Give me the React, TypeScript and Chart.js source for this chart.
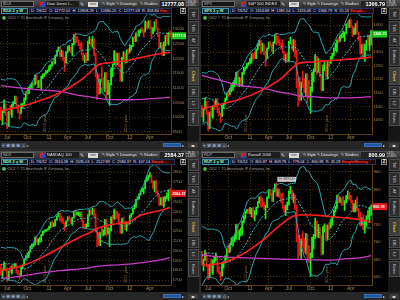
import { useEffect, useRef } from 'react';
import { Chart, registerables } from 'chart.js';

Chart.register(...registerables);

const FONT = "'Liberation Sans', Arial, sans-serif";

// ---- shared time axis (weekly bars, Jun 2010 .. Jul 2012) ----
const xTickIndex = [4, 17, 31, 43, 56, 70, 83, 96];
const xTickText = ['Jul', 'Oct', '11', 'Apr', 'Jul', 'Oct', '12', 'Apr'];
const yearMarkIndex = [28.5, 80.5];
const yearMarkText = ['2010 year', '2011 year'];
const maIndex = [0, 12, 25, 38, 51, 58, 62, 71, 82, 90, 103, 109];

// ---- $DJI ----
const djiPre = [10173, 10067, 10012, 10099, 10402, 10325, 10567, 10625, 10742, 10851, 10927, 10997, 11019, 11204, 11009, 10380, 10620, 10193, 10137];
const djiClose = [
  9932, 10211, 10450, 10144, 9686, 10198, 10097, 10425, 10466, 10654,
  10303, 10214, 10150, 10448, 10463, 10608, 10861, 10830, 11006, 11063,
  11133, 11118, 11445, 11193, 11204, 11093, 11383, 11410, 11492, 11574,
  11578, 11675, 11787, 11872, 11824, 12092, 12273, 12391, 12130, 12170,
  12044, 11859, 12221, 12377, 12380, 12342, 12506, 12811, 12639, 12596,
  12512, 12442, 12152, 11952, 12004, 11934, 12583, 12657, 12480, 12681,
  12143, 11445, 11269, 10818, 11285, 11240, 10992, 11509, 10771, 10913,
  11103, 11645, 11809, 12232, 11983, 12153, 11796, 11231, 12019, 12184,
  11866, 12294, 12218, 12360, 12422, 12720, 12660, 12862, 12801, 12950,
  12983, 12978, 12922, 13233, 13081, 13212, 13060, 12850, 13029, 13228,
  13038, 12821, 12369, 12455, 12119, 12554, 12767, 12640, 12880, 12777,
];
const djiHigh = [
  10350, 10230, 10595, 10450, 10170, 10200, 10410, 10440, 10540, 10720,
  10710, 10420, 10220, 10460, 10480, 10660, 10870, 10950, 11030, 11130,
  11180, 11200, 11450, 11450, 11260, 11240, 11400, 11460, 11510, 11590,
  11610, 11750, 11800, 11900, 12020, 12110, 12280, 12400, 12390, 12290,
  12260, 12040, 12240, 12420, 12450, 12390, 12520, 12820, 12880, 12760,
  12640, 12520, 12570, 12180, 12120, 12200, 12600, 12750, 12660, 12750,
  12680, 12180, 11500, 11450, 11300, 11720, 11350, 11520, 11530, 11260,
  11160, 11660, 11820, 12280, 12230, 12180, 12200, 11800, 12050, 12240,
  12190, 12300, 12330, 12480, 12450, 12730, 12760, 12880, 12950, 12970,
  13010, 13060, 12990, 13290, 13250, 13290, 13300, 13080, 13060, 13260,
  13340, 13050, 12830, 12550, 12500, 12570, 12790, 12850, 12890, 12950,
];
const djiLow = [
  9900, 9757, 10160, 10070, 9614, 9700, 10090, 10000, 10370, 10460,
  10290, 10150, 9940, 10120, 10310, 10430, 10580, 10750, 10800, 10960,
  10980, 11050, 11100, 11150, 11010, 11030, 10930, 11320, 11390, 11470,
  11520, 11560, 11620, 11740, 11800, 11820, 12080, 12250, 12060, 12070,
  11930, 11560, 11840, 12200, 12270, 12200, 12090, 12470, 12530, 12550,
  12440, 12310, 12120, 11930, 11860, 11870, 11930, 12500, 12420, 12380,
  12100, 11380, 10600, 10780, 10800, 11200, 10930, 10870, 10600, 10770,
  10400, 11100, 11380, 11790, 11720, 11790, 11730, 11230, 11230, 11980,
  11820, 11860, 12150, 12210, 12290, 12410, 12580, 12580, 12770, 12760,
  12880, 12900, 12740, 12900, 13000, 13040, 13030, 12700, 12840, 12940,
  13030, 12760, 12360, 12360, 12100, 12100, 12430, 12500, 12460, 12720,
];
const djiRed = [10220, 10358, 10563, 10838, 11250, 11560, 11765, 11868, 11936, 12039, 12176, 12211];
const djiMagenta = [11078, 11000, 10932, 10884, 10736, 10690, 10655, 10600, 10598, 10610, 10650, 10690];
const djiTicks = [9500, 10000, 10500, 11000, 11500, 12000, 12500, 13000];

// ---- SPX ----
const spxPre = [1091.8, 1073.9, 1066.2, 1075.5, 1109.2, 1104.5, 1138.7, 1150.0, 1159.9, 1166.6, 1178.1, 1194.4, 1192.1, 1217.3, 1186.7, 1110.9, 1135.7, 1087.7, 1089.4];
const spxClose = [
  1064.9, 1091.6, 1117.5, 1076.8, 1022.6, 1078.0, 1064.9, 1102.7, 1101.6, 1121.6,
  1079.3, 1071.7, 1064.6, 1104.5, 1109.6, 1125.6, 1148.7, 1146.2, 1165.2, 1176.2,
  1183.1, 1183.3, 1225.9, 1199.2, 1199.7, 1189.4, 1224.7, 1240.4, 1243.9, 1256.8,
  1257.6, 1271.5, 1293.2, 1283.4, 1276.3, 1310.9, 1329.2, 1343.0, 1319.9, 1321.2,
  1304.3, 1279.2, 1313.8, 1332.4, 1328.2, 1319.7, 1337.4, 1363.6, 1340.2, 1337.8,
  1333.3, 1331.1, 1300.2, 1271.0, 1271.5, 1268.5, 1339.7, 1343.8, 1316.1, 1345.0,
  1292.3, 1199.4, 1178.8, 1123.5, 1176.8, 1174.0, 1154.2, 1216.0, 1136.4, 1131.4,
  1155.5, 1224.6, 1238.3, 1285.1, 1253.2, 1263.9, 1216.0, 1158.7, 1244.3, 1255.2,
  1219.7, 1265.3, 1257.6, 1277.8, 1289.1, 1315.4, 1316.3, 1344.9, 1342.6, 1361.2,
  1365.7, 1369.6, 1370.9, 1404.2, 1397.1, 1408.5, 1398.1, 1370.3, 1378.5, 1403.4,
  1369.1, 1353.4, 1295.2, 1317.8, 1278.0, 1325.7, 1342.8, 1335.0, 1362.2, 1366.8,
];
const spxHigh = [
  1105, 1093, 1131, 1118, 1080, 1079, 1099, 1103, 1120, 1128,
  1129, 1095, 1074, 1105, 1112, 1131, 1149, 1160, 1167, 1185,
  1189, 1196, 1227, 1228, 1207, 1205, 1226, 1244, 1247, 1259,
  1263, 1278, 1294, 1296, 1302, 1312, 1331, 1344, 1343, 1333,
  1330, 1304, 1316, 1337, 1339, 1329, 1338, 1364, 1370, 1359,
  1346, 1334, 1346, 1302, 1292, 1298, 1341, 1356, 1344, 1347,
  1346, 1308, 1199, 1208, 1190, 1230, 1204, 1220, 1221, 1195,
  1171, 1225, 1239, 1292, 1285, 1277, 1265, 1216, 1253, 1267,
  1256, 1266, 1270, 1285, 1296, 1316, 1333, 1346, 1354, 1363,
  1368, 1378, 1374, 1405, 1414, 1420, 1422, 1398, 1391, 1406,
  1416, 1374, 1356, 1328, 1334, 1329, 1344, 1364, 1363, 1381,
];
const spxLow = [
  1060, 1042, 1088, 1071, 1011, 1018, 1063, 1056, 1089, 1100,
  1076, 1066, 1040, 1062, 1092, 1107, 1122, 1136, 1142, 1155,
  1159, 1171, 1180, 1194, 1173, 1176, 1173, 1218, 1232, 1240,
  1252, 1257, 1262, 1271, 1275, 1276, 1308, 1324, 1294, 1303,
  1291, 1249, 1276, 1312, 1322, 1304, 1294, 1332, 1327, 1332,
  1324, 1311, 1297, 1268, 1262, 1265, 1267, 1331, 1309, 1303,
  1283, 1168, 1101, 1120, 1122, 1169, 1150, 1136, 1114, 1131,
  1074, 1155, 1191, 1230, 1216, 1226, 1209, 1158, 1158, 1231,
  1209, 1202, 1248, 1259, 1274, 1288, 1306, 1300, 1334, 1339,
  1352, 1355, 1340, 1369, 1389, 1391, 1392, 1357, 1365, 1366,
  1368, 1343, 1291, 1296, 1277, 1266, 1307, 1324, 1306, 1326,
];
const spxRed = [1091, 1108, 1127, 1158, 1202, 1241, 1258, 1264, 1269, 1272, 1278, 1282];
const spxMagenta = [1214, 1196, 1177, 1168, 1152, 1145, 1139, 1136, 1131, 1131, 1133, 1136];
const spxTicks = [1050, 1100, 1150, 1200, 1250, 1300, 1400];

// ---- NDX ----
const ndxPre = [1789, 1741, 1730, 1768, 1815, 1817, 1866, 1889, 1897, 1925, 1939, 1975, 1980, 2032, 1972, 1830, 1872, 1796, 1826];
const ndxClose = [
  1757, 1808, 1863, 1796, 1707, 1793, 1778, 1842, 1832, 1857,
  1776, 1767, 1750, 1829, 1853, 1912, 1945, 1945, 1990, 2043,
  2048, 2061, 2135, 2093, 2110, 2111, 2162, 2196, 2197, 2209,
  2217, 2241, 2286, 2244, 2255, 2315, 2350, 2380, 2336, 2330,
  2288, 2250, 2300, 2339, 2326, 2294, 2338, 2399, 2374, 2378,
  2380, 2382, 2309, 2238, 2236, 2249, 2363, 2407, 2384, 2425,
  2359, 2211, 2176, 2059, 2180, 2167, 2174, 2313, 2178, 2179,
  2205, 2343, 2325, 2404, 2379, 2377, 2288, 2179, 2318, 2298,
  2225, 2283, 2278, 2353, 2373, 2432, 2452, 2519, 2528, 2574,
  2614, 2625, 2633, 2712, 2731, 2755, 2770, 2704, 2643, 2707,
  2590, 2574, 2468, 2527, 2459, 2539, 2547, 2556, 2615, 2584,
];
const ndxHigh = [
  1860, 1815, 1885, 1868, 1800, 1795, 1835, 1845, 1860, 1870,
  1870, 1800, 1770, 1830, 1857, 1915, 1950, 1975, 1992, 2050,
  2070, 2075, 2140, 2150, 2120, 2135, 2165, 2200, 2210, 2215,
  2225, 2250, 2290, 2300, 2285, 2318, 2355, 2382, 2380, 2350,
  2335, 2290, 2305, 2345, 2355, 2330, 2340, 2400, 2415, 2395,
  2395, 2390, 2400, 2312, 2270, 2275, 2365, 2420, 2410, 2435,
  2430, 2375, 2220, 2190, 2185, 2240, 2215, 2320, 2320, 2240,
  2225, 2345, 2360, 2425, 2410, 2400, 2380, 2290, 2330, 2340,
  2300, 2285, 2295, 2360, 2380, 2435, 2465, 2522, 2550, 2578,
  2620, 2640, 2640, 2715, 2750, 2770, 2795, 2775, 2715, 2710,
  2720, 2610, 2575, 2540, 2550, 2545, 2555, 2590, 2620, 2635,
];
const ndxLow = [
  1750, 1720, 1800, 1790, 1690, 1700, 1775, 1760, 1818, 1825,
  1770, 1755, 1710, 1745, 1815, 1848, 1905, 1930, 1930, 1985,
  2020, 2040, 2055, 2085, 2060, 2085, 2090, 2155, 2185, 2195,
  2205, 2215, 2235, 2240, 2245, 2250, 2310, 2345, 2300, 2290,
  2275, 2200, 2245, 2300, 2320, 2280, 2260, 2330, 2350, 2365,
  2355, 2345, 2300, 2230, 2225, 2230, 2245, 2350, 2370, 2365,
  2345, 2190, 2040, 2055, 2050, 2160, 2150, 2160, 2150, 2170,
  2040, 2200, 2280, 2320, 2320, 2320, 2280, 2175, 2175, 2280,
  2215, 2200, 2265, 2275, 2340, 2370, 2420, 2440, 2515, 2525,
  2565, 2600, 2580, 2630, 2705, 2720, 2750, 2690, 2630, 2600,
  2585, 2555, 2460, 2465, 2455, 2440, 2500, 2530, 2510, 2528,
];
const ndxRed = [1797, 1839, 1919, 2030, 2140, 2190, 2226, 2266, 2290, 2360, 2412, 2440];
const ndxMagenta = [1717, 1737, 1771, 1797, 1814, 1828, 1840, 1852, 1862, 1877, 1905, 1930];
const ndxTicks = [1700, 1800, 1900, 2000, 2100, 2200, 2300, 2400, 2500, 2700, 2800];

// ---- RUT ----
const rutPre = [607, 602, 592, 601, 628, 628, 663, 677, 681, 683, 690, 708, 716, 738, 717, 656, 683, 645, 662];
const rutClose = [
  636, 649, 669, 633, 602, 636, 614, 648, 650, 654,
  615, 612, 604, 638, 642, 656, 680, 676, 694, 703,
  707, 711, 749, 721, 729, 734, 759, 772, 786, 792,
  784, 787, 794, 771, 781, 799, 814, 827, 815, 812,
  799, 801, 827, 846, 837, 823, 846, 865, 836, 843,
  838, 833, 799, 790, 800, 810, 844, 847, 826, 833,
  797, 714, 712, 662, 703, 689, 677, 722, 652, 644,
  656, 712, 713, 760, 739, 741, 713, 665, 737, 748,
  713, 747, 741, 752, 772, 789, 801, 832, 817, 820,
  817, 811, 814, 831, 832, 830, 818, 793, 804, 817,
  791, 783, 749, 767, 737, 761, 770, 770, 799, 801,
];
const rutHigh = [
  673, 651, 677, 670, 634, 637, 651, 649, 659, 668,
  660, 630, 615, 639, 645, 661, 681, 692, 695, 712,
  715, 720, 750, 752, 734, 740, 760, 775, 788, 793,
  795, 799, 796, 799, 790, 800, 816, 829, 832, 824,
  815, 805, 829, 847, 849, 840, 847, 866, 869, 851,
  852, 838, 840, 803, 805, 815, 846, 860, 848, 840,
  835, 805, 720, 720, 708, 730, 710, 725, 723, 690,
  668, 714, 722, 768, 760, 750, 742, 713, 745, 752,
  749, 748, 755, 765, 774, 791, 802, 833, 835, 828,
  824, 830, 818, 833, 846, 841, 833, 818, 810, 820,
  829, 796, 785, 770, 778, 763, 775, 790, 800, 806,
];
const rutLow = [
  634, 617, 647, 629, 592, 598, 613, 607, 640, 645,
  613, 608, 590, 602, 625, 640, 650, 668, 670, 692,
  688, 700, 708, 718, 706, 717, 720, 755, 766, 782,
  781, 780, 772, 768, 760, 778, 797, 811, 800, 800,
  792, 766, 798, 825, 833, 816, 815, 843, 830, 830,
  826, 812, 796, 784, 775, 792, 805, 838, 820, 812,
  792, 700, 650, 660, 650, 685, 670, 665, 643, 640,
  601, 655, 680, 710, 715, 712, 710, 664, 665, 728,
  707, 707, 735, 740, 748, 770, 785, 795, 812, 812,
  805, 805, 790, 812, 822, 820, 812, 787, 786, 786,
  790, 770, 745, 748, 735, 725, 745, 765, 755, 776,
];
const rutRed = [634, 639, 662, 701, 750, 772, 777, 777, 773, 770, 763, 756];
const rutMagenta = [663, 658, 655, 653, 651, 650, 650, 649, 648, 651, 655, 661];
const rutTicks = [600, 650, 700, 750, 850, 900];

type PanelCfg = {
  symbol: string; desc: string; price: string; chg: string[];
  tag: string; info: string; sim: string; simWidth: number;
  pre: number[]; close: number[]; high: number[]; low: number[];
  red: number[]; magenta: number[]; ticks: number[];
  yMin: number; yMax: number; boxColor: string; boxText: string; boxLabel: string;
  hideFirstX: boolean; showHigh: boolean;
};

const GREEN_BOX = '#18c818';
const RED_BOX = '#e01a1a';

const panels: PanelCfg[] = [
  {
    symbol: '$DJI', desc: 'Dow Jones I...', price: '12777.08', chg: ['+106.46', '+0.84%'],
    tag: '$DJI 2 y W', info: 'D: 7/6/12  O: 12772.02  H: 12808.28  L: 12480.25  C: 12777.09  R: 358.84', sim: 'Sim', simWidth: 10,
    pre: djiPre, close: djiClose, high: djiHigh, low: djiLow, red: djiRed, magenta: djiMagenta, ticks: djiTicks,
    yMin: 9430, yMax: 13520, boxColor: GREEN_BOX, boxText: '#eaffea', boxLabel: '12777.08', hideFirstX: false, showHigh: false,
  },
  {
    symbol: 'SPX', desc: 'S&P 500 INDEX', price: '1366.79', chg: ['+11.56', '+0.85%'],
    tag: 'SPX 2 y W', info: 'D: 7/6/12  O: 1354.68  H: 1381.54  L: 1326.48  C: 1366.79  R: 55.13', sim: 'Simple...', simWidth: 22,
    pre: spxPre, close: spxClose, high: spxHigh, low: spxLow, red: spxRed, magenta: spxMagenta, ticks: spxTicks,
    yMin: 998, yMax: 1441, boxColor: GREEN_BOX, boxText: '#eaffea', boxLabel: '1366.79', hideFirstX: true, showHigh: false,
  },
  {
    symbol: 'NDX', desc: 'NASDAQ 100', price: '2584.37', chg: ['+26.15', '+1.02%'],
    tag: 'NDX 2 y W', info: 'D: 7/6/12  O: 2610.38  H: 2635.03  L: 2527.89  C: 2584.37  R: 107.14', sim: 'Simple...', simWidth: 22,
    pre: ndxPre, close: ndxClose, high: ndxHigh, low: ndxLow, red: ndxRed, magenta: ndxMagenta, ticks: ndxTicks,
    yMin: 1650, yMax: 2873, boxColor: RED_BOX, boxText: '#ffffff', boxLabel: '2584.37', hideFirstX: false, showHigh: false,
  },
  {
    symbol: 'RUT', desc: 'Russell 2000', price: '800.99', chg: ['+5.15', '+0.65%'],
    tag: 'RUT 2 y W', info: 'D: 7/6/12  O: 805.87  H: 809.79  L: 778.04  C: 800.99  R: 32.28', sim: 'SimpleMoving', simWidth: 33,
    pre: rutPre, close: rutClose, high: rutHigh, low: rutLow, red: rutRed, magenta: rutMagenta, ticks: rutTicks,
    yMin: 577, yMax: 920, boxColor: RED_BOX, boxText: '#ffffff', boxLabel: '800.99', hideFirstX: false, showHigh: true,
  },
];

const UP = '#19f019';
const DOWN = '#f01414';
const GRID = '#4e3412';
const AXIS = '#5e4016';
const TICK = '#a88a5c';
const BAND = '#27a6b0';
const MID = '#42c8d2';

function bollinger(pre: number[], close: number[]) {
  const all = pre.concat(close);
  const up: { x: number; y: number }[] = [];
  const mid: { x: number; y: number }[] = [];
  const lo: { x: number; y: number }[] = [];
  for (let i = 0; i < close.length; i++) {
    const end = i + pre.length + 1;
    const w = all.slice(Math.max(0, end - 20), end);
    const m = w.reduce((a, b) => a + b, 0) / w.length;
    const sd = Math.sqrt(w.reduce((a, b) => a + (b - m) * (b - m), 0) / w.length);
    up.push({ x: i, y: m + 2 * sd });
    mid.push({ x: i, y: m });
    lo.push({ x: i, y: m - 2 * sd });
  }
  return { up, mid, lo };
}

function Panel({ cfg, left, top }: { cfg: PanelCfg; left: number; top: number }) {
  const ref = useRef<HTMLCanvasElement>(null);

  useEffect(() => {
    const n = cfg.close.length;
    const open = cfg.close.map((_, i) => (i === 0 ? cfg.pre[cfg.pre.length - 1] : cfg.close[i - 1]));
    const colors = cfg.close.map((c, i) => (c >= open[i] ? UP : DOWN));
    const bb = bollinger(cfg.pre, cfg.close);
    const xLabels = xTickText.map((t, k) => (k === 0 && cfg.hideFirstX ? '' : t));

    const overlay = {
      id: 'overlay' + cfg.symbol,
      afterDatasetsDraw(chart: any) {
        const { ctx, chartArea: ca, scales } = chart;
        const xs = scales.x;
        const ys = scales.y;
        ctx.save();
        ctx.fillStyle = '#8c7048';
        ctx.font = `4px ${FONT}`;
        ctx.textBaseline = 'middle';
        ctx.textAlign = 'left';
        yearMarkIndex.forEach((v, k) => {
          const x = xs.getPixelForValue(v);
          ctx.save();
          ctx.translate(x, ca.bottom - 2);
          ctx.rotate(-Math.PI / 2);
          ctx.fillText(yearMarkText[k], 0, 0);
          ctx.restore();
        });
        if (cfg.showHigh) {
          let hi = 0;
          cfg.high.forEach((h, i) => { if (h > cfg.high[hi]) hi = i; });
          const x = xs.getPixelForValue(hi) + 1;
          const y = ys.getPixelForValue(cfg.high[hi]) - 6;
          const label = 'H: ' + cfg.high[hi].toFixed(2);
          ctx.font = `3.6px ${FONT}`;
          const w = ctx.measureText(label).width + 3;
          ctx.fillStyle = '#cfcfcf';
          ctx.fillRect(x, y, w, 5);
          ctx.fillStyle = '#333';
          ctx.fillText(label, x + 1.5, y + 2.6);
        }
        ctx.restore();
      },
      afterDraw(chart: any) {
        const { ctx, chartArea: ca, scales } = chart;
        const y = scales.y.getPixelForValue(cfg.close[n - 1]);
        ctx.save();
        ctx.fillStyle = cfg.boxColor;
        ctx.fillRect(ca.right + 0.5, y - 3.5, 14.5, 7);
        ctx.fillStyle = cfg.boxText;
        ctx.font = `bold 3.7px ${FONT}`;
        ctx.textBaseline = 'middle';
        ctx.textAlign = 'left';
        ctx.fillText(cfg.boxLabel, ca.right + 1.2, y + 0.3);
        ctx.restore();
      },
    };

    const pts = (vals: number[]) => maIndex.map((x, k) => ({ x, y: vals[k] }));

    const chart = new Chart(ref.current as HTMLCanvasElement, {
      type: 'bar',
      data: {
        datasets: [
          { type: 'line', data: pts(cfg.red), borderColor: '#ff1e1e', borderWidth: 1.6, pointRadius: 0, cubicInterpolationMode: 'monotone', order: -1 } as any,
          { type: 'line', data: pts(cfg.magenta), borderColor: '#c83cc8', borderWidth: 1.3, pointRadius: 0, cubicInterpolationMode: 'monotone', order: 0 } as any,
          { type: 'line', data: bb.up, borderColor: BAND, borderWidth: 1, pointRadius: 0, tension: 0, order: 0 } as any,
          { type: 'line', data: bb.lo, borderColor: BAND, borderWidth: 1, pointRadius: 0, tension: 0, order: 0 } as any,
          { type: 'line', data: bb.mid, borderColor: MID, borderWidth: 1, borderDash: [2, 1.5], pointRadius: 0, tension: 0, order: 0 } as any,
          {
            type: 'bar', data: cfg.close.map((c, i) => ({ x: i, y: [open[i], c] })),
            backgroundColor: colors, borderWidth: 0, grouped: false, categoryPercentage: 1, barPercentage: 0.8, order: 1,
          } as any,
          {
            type: 'bar', data: cfg.close.map((_, i) => ({ x: i, y: [cfg.low[i], cfg.high[i]] })),
            backgroundColor: colors, borderWidth: 0, grouped: false, barThickness: 1, order: 2,
          } as any,
        ],
      },
      options: {
        animation: false,
        responsive: false,
        maintainAspectRatio: false,
        events: [],
        layout: { padding: 0 },
        plugins: { legend: { display: false }, tooltip: { enabled: false } },
        scales: {
          x: {
            type: 'linear', min: -0.6, max: n - 0.4, offset: false,
            grid: { color: GRID, lineWidth: 1, offset: false, drawTicks: false },
            border: { display: true, color: AXIS, dash: [1, 2] },
            afterBuildTicks: (s: any) => { s.ticks = xTickIndex.map((v) => ({ value: v })); },
            afterFit: (s: any) => { s.height = 7; s.paddingLeft = 0; s.paddingRight = 0; },
            ticks: {
              autoSkip: false, maxRotation: 0, padding: 1, color: TICK,
              font: { size: 5, family: FONT },
              callback: (v: any) => xLabels[xTickIndex.indexOf(Number(v))] ?? '',
            },
          },
          y: {
            type: 'linear', position: 'right', min: cfg.yMin, max: cfg.yMax,
            grid: { color: GRID, lineWidth: 1, drawTicks: false },
            border: { display: true, color: AXIS, dash: [1, 2] },
            afterBuildTicks: (s: any) => { s.ticks = cfg.ticks.map((v) => ({ value: v })); },
            afterFit: (s: any) => { s.width = 15; s.paddingTop = 0; s.paddingBottom = 0; },
            ticks: {
              autoSkip: false, padding: 1.5, color: TICK,
              font: { size: 4.2, family: FONT },
              callback: (v: any) => String(v),
            },
          },
        },
      } as any,
      plugins: [overlay],
    });
    return () => chart.destroy();
  }, [cfg]);

  const tabs: [string, number, number][] = [
    ['TM', 0, 13], ['T&S', 13, 14], ['AT', 27, 12], ['Buttons', 39, 20],
    ['Chart', 59, 19], ['DB', 78, 12], ['L2', 90, 12], ['News', 102, 17],
  ];
  const abs = (s: any) => ({ position: 'absolute' as const, ...s });

  return (
    <div style={abs({ left, top, width: 199, height: 149, background: '#000', overflow: 'hidden', fontFamily: FONT })}>
      {/* toolbar */}
      <div style={abs({ left: 0, top: 0, width: 199, height: 8, background: 'linear-gradient(#505050,#2e2e2e)' })}>
        <div style={abs({ left: 1, top: 1, width: 33, height: 6, background: '#151515', border: '1px solid #6a6a6a', boxSizing: 'border-box', color: '#bdbdbd', fontSize: 4, lineHeight: '4px', paddingLeft: 1 })}>{cfg.symbol}</div>
        <div style={abs({ left: 40, top: 1.5, width: 5, height: 5, background: 'linear-gradient(135deg,#d82020 50%,#2848c8 50%)' })} />
        <div style={abs({ left: 46, top: 1, width: 32, height: 6, background: '#1c1c1c', color: '#e0e0e0', fontSize: 4, lineHeight: '6px', paddingLeft: 1, whiteSpace: 'nowrap', overflow: 'hidden' })}>{cfg.desc}</div>
        <div style={abs({ left: 80, top: 1.5, width: 5, height: 5, color: '#ddd', fontSize: 5, lineHeight: '5px' })}>✎</div>
        <div style={abs({ left: 88, top: 1.5, width: 10, height: 5, background: '#d8d8d8', color: '#333', fontSize: 3, lineHeight: '5px', textAlign: 'center' })}>mini</div>
        <div style={abs({ left: 102, top: 1, color: '#e6e6e6', fontSize: 4, lineHeight: '6px', whiteSpace: 'nowrap' })}>✎ Style</div>
        <div style={abs({ left: 116, top: 1, color: '#e6e6e6', fontSize: 4, lineHeight: '6px', whiteSpace: 'nowrap' })}>✎ Drawings</div>
        <div style={abs({ left: 140, top: 1, color: '#e6e6e6', fontSize: 4, lineHeight: '6px', whiteSpace: 'nowrap' })}>✎ Studies</div>
        <div style={abs({ left: 160, top: 0.5, width: 25, height: 7, background: '#222', color: '#fff', fontSize: 5.4, fontWeight: 'bold', lineHeight: '7px', textAlign: 'right', paddingRight: 1, boxSizing: 'border-box' })}>{cfg.price}</div>
        <div style={abs({ left: 186, top: 0.5, color: '#ddd', fontSize: 2.8, lineHeight: '3.3px', whiteSpace: 'nowrap' })}>{cfg.chg[0]}<br />{cfg.chg[1]}</div>
      </div>

      {/* info row */}
      <div style={abs({ left: 0, top: 8, width: 187, height: 6, background: '#000' })}>
        <div style={abs({ left: 1, top: 0, width: 27, height: 6, background: '#06202c', border: '1px solid #3c90b0', boxSizing: 'border-box', color: '#b8f0a8', fontSize: 4, lineHeight: '4px', paddingLeft: 1, whiteSpace: 'nowrap', fontWeight: 'bold' })}>{cfg.tag}</div>
        <div style={abs({ left: 29, top: 0, height: 6, display: 'flex', alignItems: 'center', background: '#0a0a22', border: '1px solid #243460', boxSizing: 'border-box', paddingLeft: 1, paddingRight: 1 })}>
          <span style={{ color: '#e8e8e8', fontSize: 3.9, lineHeight: '4px', whiteSpace: 'pre' }}>{cfg.info}</span>
          <span style={{ marginLeft: 1, width: cfg.simWidth, height: 4, background: '#2a0808', color: '#ff3030', fontSize: 3.9, lineHeight: '4px', whiteSpace: 'nowrap', overflow: 'hidden', fontWeight: 'bold' }}>{cfg.sim}</span>
        </div>
        <div style={abs({ left: 180, top: 0, width: 6, height: 6, background: '#1a1a1a', border: '1px solid #888', boxSizing: 'border-box', color: '#fff', fontSize: 4.5, fontWeight: 'bold', lineHeight: '4px', textAlign: 'center' })}>Z</div>
      </div>

      {/* chart */}
      <canvas ref={ref} width={186} height={127} style={abs({ left: 0, top: 14, width: 186, height: 127 })} />

      {/* copyright */}
      <div style={abs({ left: 2, top: 16, width: 4, height: 4, borderRadius: 2, background: '#2fa02f', color: '#fff', fontSize: 3.5, lineHeight: '4px', textAlign: 'center', fontWeight: 'bold' })}>i</div>
      <div style={abs({ left: 8, top: 16, color: '#9a9a9a', fontSize: 3.5, lineHeight: '4px', whiteSpace: 'nowrap' })}>2012 © TD Ameritrade IP Company, Inc.</div>

      {/* right tabs */}
      <div style={abs({ left: 187, top: 8, width: 12, height: 133, background: '#161616' })}>
        {tabs.map(([t, y, h]) => (
          <div key={t} style={abs({ left: 0.5, top: y, width: 11, height: h - 1, background: t === 'Chart' ? '#3c3c3c' : '#2c2c2c', border: '1px solid #4a4a4a', boxSizing: 'border-box', color: t === 'Chart' ? '#e8c234' : '#c8c8c8', fontSize: 4, display: 'flex', alignItems: 'center', justifyContent: 'center' })}>
            <span style={{ writingMode: 'vertical-rl', whiteSpace: 'nowrap', lineHeight: '4px', fontWeight: t === 'Chart' ? 'bold' : 'normal' }}>{t}</span>
          </div>
        ))}
      </div>

      {/* bottom bar */}
      <div style={abs({ left: 0, top: 141, width: 199, height: 8, background: '#262626' })}>
        {['+', '⊕', '⊕', '⊕', '⌂'].map((g, k) => (
          <div key={k} style={abs({ left: 1 + k * 5, top: 1.5, width: 4.5, height: 5, background: '#3a3f48', color: '#a8d0f0', fontSize: 4.5, lineHeight: '5px', textAlign: 'center' })}>{g}</div>
        ))}
        <div style={abs({ left: 26, top: 1.5, color: '#aaa', fontSize: 4, lineHeight: '5px' })}>◂</div>
        <div style={abs({ left: 163, top: 2, width: 18, height: 4, background: '#24569e', border: '1px solid #3a70c0', boxSizing: 'border-box' })} />
        <div style={abs({ left: 182, top: 1.5, color: '#ccc', fontSize: 4, lineHeight: '5px' })}>▸</div>
        <div style={abs({ left: 188, top: 1.5, width: 10, height: 5, background: '#3a3a3a', color: '#fff', fontSize: 4, lineHeight: '5px', textAlign: 'center' })}>◂▸</div>
      </div>
    </div>
  );
}

export default function App() {
  return (
    <div style={{ position: 'fixed', left: 0, top: 0, width: 400, height: 300, background: '#2c2c2c', overflow: 'hidden' }}>
      <Panel cfg={panels[0]} left={0} top={0} />
      <Panel cfg={panels[1]} left={201} top={0} />
      <Panel cfg={panels[2]} left={0} top={151} />
      <Panel cfg={panels[3]} left={201} top={151} />
    </div>
  );
}
